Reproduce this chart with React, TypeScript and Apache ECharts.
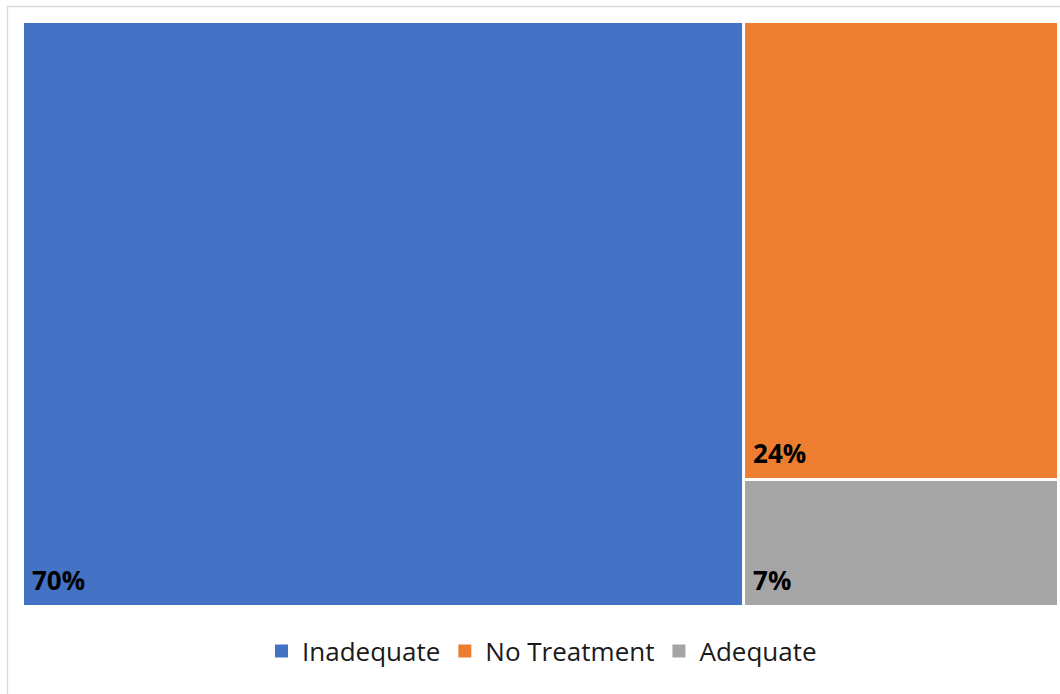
import React, { useEffect, useRef } from "react";
import * as echarts from "echarts";

const categories = ["Inadequate", "No Treatment", "Adequate"];
const values = [69.6, 23.8, 6.6];
const colors = ["#4472C4", "#ED7D31", "#A5A5A5"];

export default function App() {
  const ref = useRef<HTMLDivElement>(null);
  useEffect(() => {
    if (!ref.current) return;
    const chart = echarts.init(ref.current, null, { renderer: "svg" });
    const font = "'Open Sans', 'Liberation Sans', sans-serif";
    chart.setOption({
      animation: false,
      backgroundColor: "#ffffff",
      graphic: [
        {
          type: "rect",
          shape: { x: 7.5, y: 6.5, width: 1200, height: 800 },
          style: { fill: "none", stroke: "#d9d9d9", lineWidth: 1.3 },
          silent: true,
          z: -10,
        },
      ],
      grid: { show: false, left: 0, top: 0, width: 1, height: 1 },
      xAxis: { type: "category", show: false, data: [] },
      yAxis: { type: "value", show: false },
      legend: {
        show: true,
        data: categories,
        top: 633,
        left: 270,
        icon: "rect",
        itemWidth: 13,
        itemHeight: 13,
        itemGap: 18,
        textStyle: {
          fontFamily: font,
          fontSize: 26,
          color: "#1a1a1a",
          padding: [0, 0, 0, 9],
        },
        selectedMode: false,
      },
      series: [
        ...categories.map((c, i) => ({
          type: "bar",
          name: c,
          data: [],
          itemStyle: { color: colors[i] },
        })),
        {
          type: "treemap",
          left: 24,
          top: 23,
          width: 1033,
          height: 582,
          roam: false,
          nodeClick: false,
          breadcrumb: { show: false },
          squareRatio: 0.5 * (1 + Math.sqrt(5)),
          levels: [
            { itemStyle: { gapWidth: 3, borderWidth: 0, borderColor: "#ffffff" } },
          ],
          label: {
            show: true,
            position: "insideBottomLeft",
            distance: 8,
            padding: [0, 0, 4, 0],
            fontFamily: font,
            fontSize: 26,
            fontWeight: "bold",
            color: "#000000",
            formatter: (p: any) => `${Math.round(p.value)}%`,
          },
          upperLabel: { show: false },
          data: categories.map((c, i) => ({
            name: c,
            value: values[i],
            itemStyle: { color: colors[i], borderWidth: 0 },
          })),
        },
      ],
    });
    return () => chart.dispose();
  }, []);
  return (
    <div
      ref={ref}
      style={{ position: "fixed", left: 0, top: 0, width: 1060, height: 694 }}
    />
  );
}
